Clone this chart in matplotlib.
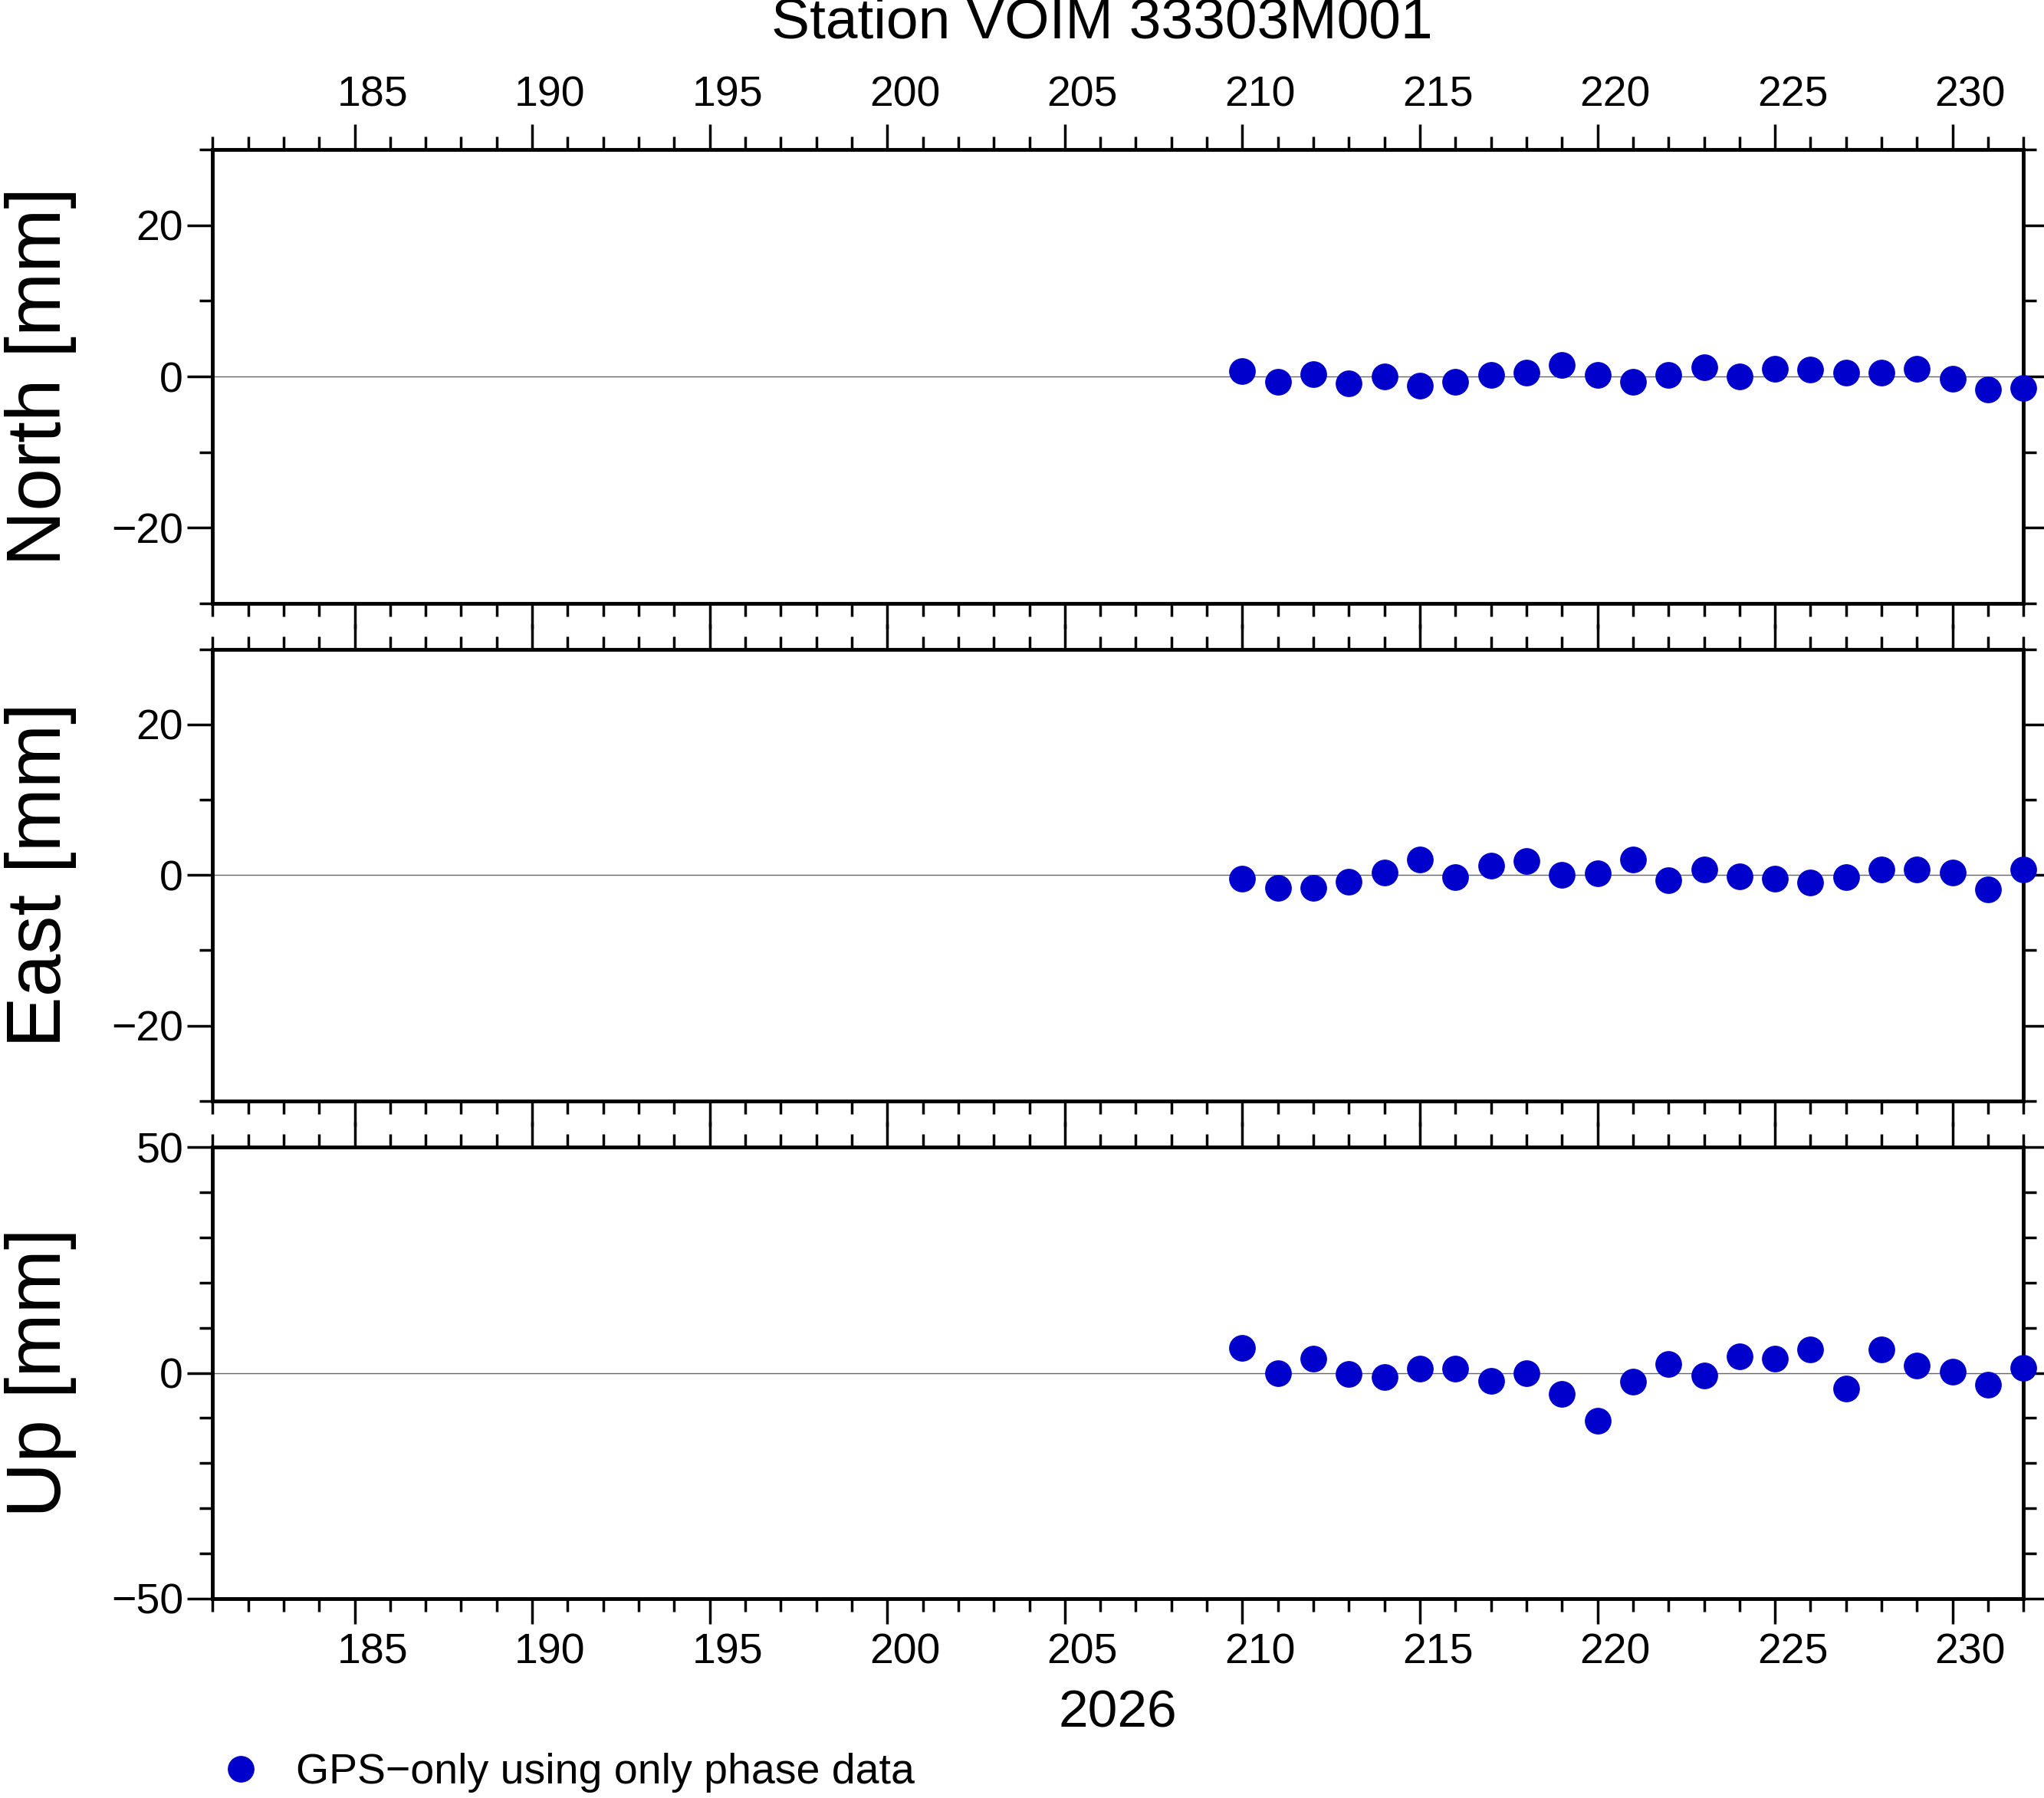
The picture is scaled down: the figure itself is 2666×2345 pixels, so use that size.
import matplotlib
matplotlib.use("Agg")
import matplotlib.pyplot as plt
from matplotlib.ticker import MultipleLocator
from matplotlib.lines import Line2D

plt.rcParams["font.family"] = ["Liberation Sans", "DejaVu Sans"]

# ── Data (day of year 2026, displacement in mm) ───────────────────────────
days = list(range(210, 233))
north = [0.7, -0.7, 0.3, -0.9, 0.0, -1.2, -0.7, 0.2, 0.5, 1.5, 0.2, -0.7,
         0.2, 1.2, 0.0, 1.0, 0.9, 0.5, 0.5, 1.0, -0.3, -1.7, -1.5]
east = [-0.5, -1.7, -1.7, -0.9, 0.3, 2.1, -0.3, 1.2, 1.9, 0.0, 0.2, 2.1,
        -0.7, 0.7, -0.2, -0.5, -1.0, -0.3, 0.7, 0.7, 0.3, -1.9, 0.7]
up = [5.5, 0.0, 3.2, -0.3, -0.9, 0.9, 0.9, -1.7, 0.0, -4.6, -10.6, -2.0,
      2.0, -0.6, 3.7, 3.2, 5.2, -3.4, 5.2, 1.7, 0.3, -2.6, 1.1]
x_labels = [185, 190, 195, 200, 205, 210, 215, 220, 225, 230]

panels = [
    ("North [mm]", north, 30, 20, [0.6645, 0.9167]),
    ("East [mm]", east, 30, 20, [0.3877, 0.639]),
    ("Up [mm]", up, 50, 50, [0.1109, 0.362]),
]

COLOR = "#0000cc"
fig = plt.figure(figsize=(26.66, 23.45), dpi=100)
left, right = 0.104, 0.990

for i, (label, vals, lim, major, (bot, top)) in enumerate(panels):
    ax = fig.add_axes([left, bot, right - left, top - bot])
    ax.axhline(0, color="#666666", lw=1.0, zorder=1)
    ax.plot(days, vals, "o", color=COLOR, ms=24, zorder=3, clip_on=False)
    ax.set_xlim(181, 232)
    ax.set_ylim(-lim, lim)
    ax.xaxis.set_major_locator(MultipleLocator(5))
    ax.xaxis.set_minor_locator(MultipleLocator(1))
    ax.yaxis.set_major_locator(MultipleLocator(major))
    ax.yaxis.set_minor_locator(MultipleLocator(10))
    ax.set_xticklabels([])
    ax.tick_params(which="both", direction="out", top=True, right=True,
                   width=2.5, labelsize=40)
    ax.tick_params(which="major", length=24)
    ax.tick_params(which="minor", length=12)
    for s in ax.spines.values():
        s.set_linewidth(3.5)
    ax.yaxis.set_major_formatter(matplotlib.ticker.FuncFormatter(
        lambda v, p: f"{int(v)}".replace("-", "\u2212")))
    ax.set_ylabel(label, fontsize=72, labelpad=20)
    ax.yaxis.set_label_coords(-0.075, 0.5)
    trans = ax.get_xaxis_transform()
    if i == 0:
        for d in x_labels:
            ax.text(d + 0.5, 1.075, str(d), transform=trans, ha="center",
                    va="bottom", fontsize=40)
    if i == 2:
        for d in x_labels:
            ax.text(d + 0.5, -0.075, str(d), transform=trans, ha="center",
                    va="top", fontsize=40)
        ax.text(206.5, -0.2, "2026", transform=trans, ha="center",
                va="top", fontsize=50)

fig.text(0.539, 0.987, "Station VOIM 33303M001", ha="center", va="center",
         fontsize=54)

handle = Line2D([], [], marker="o", ls="", color=COLOR, ms=24)
fig.legend([handle], ["GPS\u2212only using only phase data"], loc="center left",
           bbox_to_anchor=(0.078, 0.014), frameon=False, fontsize=40,
           handletextpad=0.3)

fig.savefig("out.png", dpi=100)
